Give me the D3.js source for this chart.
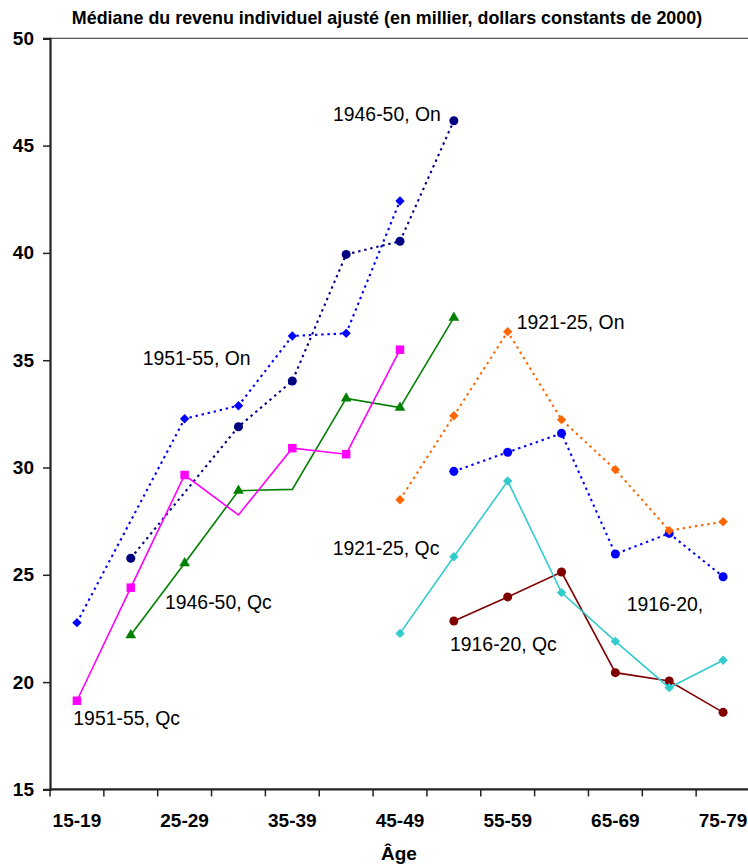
<!DOCTYPE html>
<html>
<head>
<meta charset="utf-8">
<script src="https://cdn.jsdelivr.net/npm/d3@7"></script>
<style>
  html, body { margin: 0; padding: 0; background: #fff; }
  svg { display: block; font-family: Arial, "Liberation Sans", sans-serif; }
</style>
</head>
<body>
<svg id="chart" width="748" height="865"></svg>
<script>
// ---- data ----
const categories = ["15-19","20-24","25-29","30-34","35-39","40-44","45-49","50-54","55-59","60-64","65-69","70-74","75-79"];
const xTickLabels = ["15-19","25-29","35-39","45-49","55-59","65-69","75-79"];
const yTicks = [15, 20, 25, 30, 35, 40, 45, 50];

const qc1916_20 = [null, null, null, null, null, null, null, 22.85, 23.97, 25.13, 20.44, 20.05, 18.59];
const on1916_20 = [null, null, null, null, null, null, null, 29.82, 30.71, 31.59, 25.97, 26.93, 24.91];
const qc1921_25 = [null, null, null, null, null, null, 22.27, 25.84, 29.37, 24.17, 21.90, 19.74, 21.02];
const on1921_25 = [null, null, null, null, null, null, 28.50, 32.41, 36.33, 32.23, 29.90, 27.06, 27.47];
const qc1946_50 = [null, 22.19, 25.54, 28.92, 28.98, 33.22, 32.79, 36.98, null, null, null, null, null];
const on1946_50 = [null, 25.77, null, 31.90, 34.03, 39.93, 40.54, 46.16, null, null, null, null, null];
const qc1951_55 = [19.13, 24.40, 29.65, 27.79, 30.90, 30.62, 35.49, null, null, null, null, null, null];
const on1951_55 = [22.77, null, 32.27, 32.88, 36.13, 36.25, 42.42, null, null, null, null, null, null];

// points drawn without a marker (category indices)
const qc1946_50NoMarker = [4];
const qc1951_55NoMarker = [3];

const seriesNames = ["1916-20, Qc","1916-20, On","1921-25, Qc","1921-25, On","1946-50, Qc","1946-50, On","1951-55, Qc","1951-55, On"];

// label anchors in data units: [category position, value]
const labelTexts = ["1946-50, On","1951-55, On","1921-25, On","1921-25, Qc","1946-50, Qc","1951-55, Qc","1916-20, Qc","1916-20,"];
const labelCatPos = [5.256, 1.722, 8.667, 5.25, 2.136, 0.433, 7.429, 10.71];
const labelValues = [46.16, 34.78, 36.44, 25.92, 23.39, 18.0, 21.46, 23.33];

const titleText = "Médiane du revenu individuel ajusté (en millier, dollars constants de 2000)";
const xAxisTitle = "Âge";

// ---- styles ----
const series = [
  {name: seriesNames[0], values: qc1916_20, color: "#800000", marker: "circle",  dashed: false, noMarker: []},
  {name: seriesNames[1], values: on1916_20, color: "#0000FF", marker: "circle",  dashed: true,  noMarker: []},
  {name: seriesNames[2], values: qc1921_25, color: "#33CCCC", marker: "diamond", dashed: false, noMarker: []},
  {name: seriesNames[3], values: on1921_25, color: "#FF6600", marker: "diamond", dashed: true,  noMarker: []},
  {name: seriesNames[4], values: qc1946_50, color: "#008000", marker: "triangle",dashed: false, noMarker: qc1946_50NoMarker},
  {name: seriesNames[5], values: on1946_50, color: "#000080", marker: "circle",  dashed: true,  noMarker: []},
  {name: seriesNames[6], values: qc1951_55, color: "#FF00FF", marker: "square",  dashed: false, noMarker: qc1951_55NoMarker},
  {name: seriesNames[7], values: on1951_55, color: "#0000FF", marker: "diamond", dashed: true,  noMarker: []}
];

const svg = d3.select("#chart");
const pLeft = 50, pRight = 750, pTop = 38.3, pBottom = 789.4;

const x = d3.scaleBand().domain(categories).range([pLeft, pRight]).paddingInner(0).paddingOuter(0);
const xc = c => x(c) + x.bandwidth() / 2;
const xPos = p => pLeft + p * x.bandwidth();
const y = d3.scaleLinear().domain([15, 50]).range([pBottom, pTop]);

// top border of plot area
svg.append("line")
  .attr("x1", pLeft).attr("x2", pRight)
  .attr("y1", pTop).attr("y2", pTop)
  .attr("stroke", "#555").attr("stroke-width", 1.3);

// series
const line = d3.line().x(d => xc(d.cat)).y(d => y(d.v));
series.forEach(s => {
  const pts = s.values.map((v, i) => ({cat: categories[i], v, i})).filter(d => d.v != null);
  const g = svg.append("g");
  g.append("path")
    .attr("d", line(pts))
    .attr("fill", "none")
    .attr("stroke", s.color)
    .attr("stroke-width", s.dashed ? 2.1 : 1.6)
    .attr("stroke-dasharray", s.dashed ? "2.4,3.8" : null);
  const mk = pts.filter(d => !s.noMarker.includes(d.i));
  let sym, size, rot = 0;
  if (s.marker === "circle") { sym = d3.symbolCircle; size = 64; }
  else if (s.marker === "square") { sym = d3.symbolSquare; size = 72; }
  else if (s.marker === "diamond") { sym = d3.symbolSquare; size = 44; rot = 45; }
  else { sym = d3.symbolTriangle; size = 50; }
  g.selectAll("path.m").data(mk).enter().append("path")
    .attr("class", "m")
    .attr("d", d3.symbol().type(sym).size(size)())
    .attr("transform", d => `translate(${xc(d.cat)},${y(d.v)}) rotate(${rot})`)
    .attr("fill", s.color);
});

// labels
labelTexts.forEach((t, i) => {
  svg.append("text")
    .attr("x", xPos(labelCatPos[i]))
    .attr("y", y(labelValues[i]))
    .attr("font-size", 19.4)
    .attr("fill", "#000")
    .text(t);
});

// y axis
const yAxis = d3.axisLeft(y).tickValues(yTicks).tickSize(7).tickPadding(9).tickFormat(d3.format("d"));
const gy = svg.append("g").attr("transform", `translate(${pLeft},0)`).call(yAxis);
gy.select(".domain").attr("stroke", "#222").attr("stroke-width", 2.2);
gy.selectAll(".tick line").attr("stroke", "#222").attr("stroke-width", 1.5);
gy.selectAll(".tick text").attr("font-size", 19).attr("font-weight", "bold").attr("fill", "#000")
  .attr("font-family", "Arial, 'Liberation Sans', sans-serif");

// x axis
const gx = svg.append("g").attr("transform", `translate(0,${pBottom})`);
gx.append("line").attr("x1", pLeft).attr("x2", pRight).attr("y1", 0).attr("y2", 0)
  .attr("stroke", "#222").attr("stroke-width", 2.2);
const bounds = d3.range(categories.length + 1).map(i => xPos(i));
gx.selectAll("line.t").data(bounds).enter().append("line")
  .attr("class", "t")
  .attr("x1", d => d).attr("x2", d => d).attr("y1", 0).attr("y2", 7)
  .attr("stroke", "#222").attr("stroke-width", 1.5);
gx.selectAll("text").data(xTickLabels).enter().append("text")
  .attr("x", d => xc(d))
  .attr("y", 37.3)
  .attr("text-anchor", "middle")
  .attr("font-size", 19).attr("font-weight", "bold").attr("fill", "#000")
  .text(d => d);

// axis title
svg.append("text")
  .attr("x", (pLeft + pRight) / 2 - 1)
  .attr("y", 860)
  .attr("text-anchor", "middle")
  .attr("font-size", 19).attr("font-weight", "bold")
  .text(xAxisTitle);

// chart title
svg.append("text")
  .attr("x", 387)
  .attr("y", 24)
  .attr("text-anchor", "middle")
  .attr("font-size", 17.9).attr("font-weight", "bold")
  .text(titleText);
</script>
</body>
</html>
